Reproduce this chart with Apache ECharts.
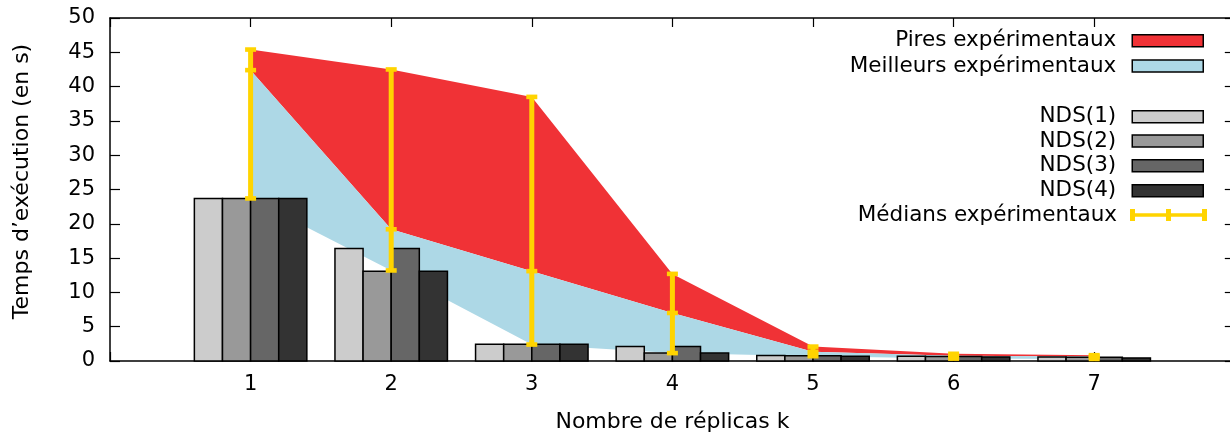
<!DOCTYPE html>
<html>
<head>
<meta charset="utf-8">
<script src="https://cdn.jsdelivr.net/npm/echarts@6/dist/echarts.min.js"></script>
<style>
html,body{margin:0;padding:0;background:#fff;overflow:hidden;width:1230px;height:441px;}
#chart{width:1240px;height:441px;}
</style>
</head>
<body>
<div id="chart"></div>
<script>
// ---- data ----
const kValues = [1, 2, 3, 4, 5, 6, 7];
const worst  = [45.4, 42.5, 38.5, 12.7, 2.1, 1.05, 0.85];   // Pires expérimentaux
const median = [42.4, 19.2, 13.1, 7.0, 1.35, 0.75, 0.65];   // Médians expérimentaux
const best   = [23.7, 13.2, 2.4, 1.15, 0.7, 0.35, 0.3];     // Meilleurs expérimentaux
const nds1 = [23.7, 16.4, 2.45, 2.1, 0.8, 0.7, 0.6];
const nds2 = [23.7, 13.1, 2.45, 1.15, 0.75, 0.65, 0.55];
const nds3 = [23.7, 16.4, 2.45, 2.1, 0.75, 0.65, 0.55];
const nds4 = [23.7, 13.1, 2.45, 1.15, 0.7, 0.6, 0.45];
const ndsNames = ['NDS(1)', 'NDS(2)', 'NDS(3)', 'NDS(4)'];
const xTickLabels = ['1', '2', '3', '4', '5', '6', '7'];

// ---- styles ----
const FONT = 'DejaVu Sans';
const RED = '#F03236';
const BLUE = '#ADD8E6';
const GOLD = '#FFD400';
const GRAYS = ['#CCCCCC', '#999999', '#666666', '#333333'];
const EXTRA = 10; // container is 10px wider than the visible page

const chart = echarts.init(document.getElementById('chart'), null, {renderer: 'canvas'});

function bandSeries(name, upper, lower, color) {
  return {
    type: 'custom', name: name, z: 1,
    itemStyle: {color: color},
    encode: {x: 0, y: [1, 2]},
    data: kValues.map((k, i) => [k, upper[i], lower[i]]),
    renderItem: function (params, api) {
      if (params.dataIndexInside !== 0) return null;
      const n = params.dataInsideLength;
      const pts = [];
      for (let j = 0; j < n; j++) pts.push(api.coord([api.value(0, j), api.value(1, j)]));
      for (let j = n - 1; j >= 0; j--) pts.push(api.coord([api.value(0, j), api.value(2, j)]));
      return {type: 'polygon', shape: {points: pts}, style: {fill: color, stroke: null}};
    }
  };
}

function barSeries(name, values, offset, color) {
  return {
    type: 'custom', name: name, z: 2,
    itemStyle: {color: color},
    encode: {x: 0, y: 1},
    data: kValues.map((k, i) => [k, values[i]]),
    renderItem: function (params, api) {
      const x = api.value(0) + offset;
      const p0 = api.coord([x - 0.1, api.value(1)]);
      const p1 = api.coord([x + 0.1, 0]);
      return {type: 'rect',
        shape: {x: p0[0], y: p0[1], width: p1[0] - p0[0], height: p1[1] - p0[1]},
        style: {fill: color, stroke: '#000', lineWidth: 1.5}};
    }
  };
}

const errSeries = {
  type: 'custom', name: 'Médians expérimentaux', z: 3,
  itemStyle: {color: GOLD},
  encode: {x: 0, y: [1, 2, 3]},
  data: kValues.map((k, i) => [k, median[i], best[i], worst[i]]),
  renderItem: function (params, api) {
    const x = api.value(0);
    const pm = api.coord([x, api.value(1)]);
    const pl = api.coord([x, api.value(2)]);
    const pu = api.coord([x, api.value(3)]);
    const st = {fill: GOLD};
    const cap = (p) => ({type: 'rect', shape: {x: p[0] - 5.5, y: p[1] - 2.3, width: 11, height: 4.6}, style: st});
    return {type: 'group', children: [
      {type: 'rect', shape: {x: pm[0] - 2.5, y: pu[1], width: 5, height: pl[1] - pu[1]}, style: st},
      cap(pu), cap(pl), cap(pm)
    ]};
  }
};

const legendItems = [
  {name: 'Pires expérimentaux', color: RED, center: 40.7},
  {name: 'Meilleurs expérimentaux', color: BLUE, center: 66},
  {name: ndsNames[0], color: GRAYS[0], center: 116.7},
  {name: ndsNames[1], color: GRAYS[1], center: 141},
  {name: ndsNames[2], color: GRAYS[2], center: 165.7},
  {name: ndsNames[3], color: GRAYS[3], center: 190.7}
];
const legends = legendItems.map(it => ({
  orient: 'vertical', right: 26 + EXTRA, top: it.center - 12, padding: 0,
  selectedMode: false, align: 'right', itemWidth: 71, itemHeight: 12,
  icon: 'rect',
  itemStyle: {color: it.color, borderColor: '#000', borderWidth: 1.5},
  textStyle: {fontFamily: FONT, fontSize: 21.5, color: '#000', lineHeight: 24, padding: [0, 11, 0, 0]},
  data: [it.name]
}));
legends.push({
  orient: 'vertical', right: 23 + EXTRA, top: 215 - 12, padding: 0,
  selectedMode: false, align: 'right', itemWidth: 77, itemHeight: 12,
  icon: 'path://M0 0h5v12h-5z M36 0h5v12h-5z M72 0h5v12h-5z M0 4.3h77v3.4h-77z',
  itemStyle: {color: GOLD, borderWidth: 0},
  textStyle: {fontFamily: FONT, fontSize: 21.5, color: '#000', lineHeight: 24, padding: [0, 8, 0, 0]},
  data: ['Médians expérimentaux']
});

const axisLineStyle = {color: '#000', width: 1.5};
const option = {
  animation: false,
  backgroundColor: '#fff',
  textStyle: {fontFamily: FONT},
  grid: {left: 110, top: 18, width: 1124.8, height: 343, containLabel: false},
  legend: legends,
  xAxis: [{
    type: 'value', min: 0, max: 8, interval: 1, position: 'bottom',
    name: 'Nombre de réplicas k', nameLocation: 'middle', nameGap: 50,
    nameTextStyle: {fontFamily: FONT, fontSize: 22, color: '#000'},
    axisLine: {show: true, onZero: false, lineStyle: axisLineStyle},
    axisTick: {show: true, inside: true, length: 9, lineStyle: {color: '#000', width: 1.2}},
    axisLabel: {fontFamily: FONT, fontSize: 21, color: '#000', margin: 13,
      formatter: v => (v >= 1 && v <= 7 ? xTickLabels[v - 1] : '')},
    splitLine: {show: false}
  }, {
    type: 'value', min: 0, max: 8, interval: 1, position: 'top',
    axisLine: {show: true, onZero: false, lineStyle: axisLineStyle},
    axisTick: {show: true, inside: true, length: 9, lineStyle: {color: '#000', width: 1.2}},
    axisLabel: {show: false}, splitLine: {show: false}
  }],
  yAxis: [{
    type: 'value', min: 0, max: 50, interval: 5, position: 'left',
    name: 'Temps d’exécution (en s)', nameLocation: 'middle', nameGap: 77, nameRotate: 90,
    nameTextStyle: {fontFamily: FONT, fontSize: 22, color: '#000', padding: [0, 0, 0, 16]},
    axisLine: {show: true, onZero: false, lineStyle: axisLineStyle},
    axisTick: {show: true, inside: true, length: 10, lineStyle: {color: '#000', width: 1.2}},
    axisLabel: {fontFamily: FONT, fontSize: 21, color: '#000', margin: 15},
    splitLine: {show: false}
  }, {
    type: 'value', min: 0, max: 50, interval: 5, position: 'right',
    axisLine: {show: true, onZero: false, lineStyle: axisLineStyle},
    axisTick: {show: true, inside: true, length: 10, lineStyle: {color: '#000', width: 1.2}},
    axisLabel: {show: false}, splitLine: {show: false}
  }],
  series: [
    bandSeries('Pires expérimentaux', worst, median, RED),
    bandSeries('Meilleurs expérimentaux', median, best, BLUE),
    barSeries(ndsNames[0], nds1, -0.3, GRAYS[0]),
    barSeries(ndsNames[1], nds2, -0.1, GRAYS[1]),
    barSeries(ndsNames[2], nds3, 0.1, GRAYS[2]),
    barSeries(ndsNames[3], nds4, 0.3, GRAYS[3]),
    errSeries
  ]
};
chart.setOption(option);
</script>
</body>
</html>
